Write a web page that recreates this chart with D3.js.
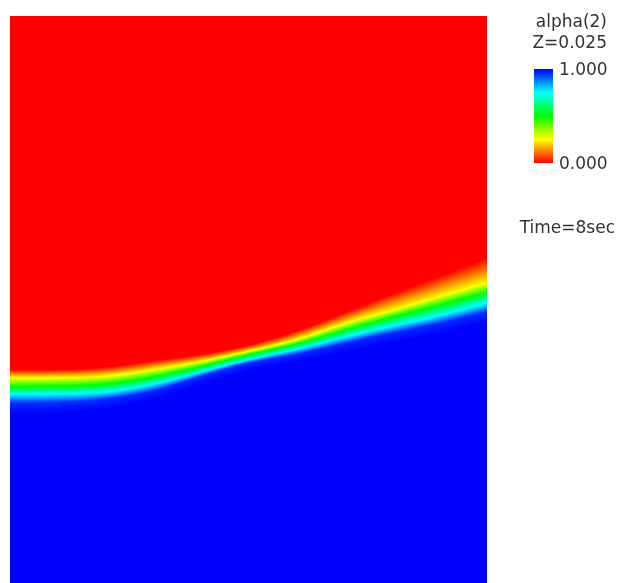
<!DOCTYPE html>
<html>
<head>
<meta charset="utf-8">
<script src="https://cdn.jsdelivr.net/npm/d3@7"></script>
<style>
  body { margin: 0; background: #fff; }
  #wrap { position: relative; width: 617px; height: 583px; overflow: hidden; }
  #wrap canvas, #wrap svg { position: absolute; left: 0; top: 0; }
  text { font-family: "DejaVu Sans", sans-serif; fill: #333; }
</style>
</head>
<body>
<div id="wrap"></div>
<script>
// sample positions across the domain (fraction of width)
const xs = [0, 0.1, 0.2, 0.3, 0.4, 0.5, 0.6, 0.7, 0.8, 0.9, 1.0];

// alpha(2) levels and the height (fraction of domain height) where each one sits
const levels = [0, 0.25, 0.5, 0.75, 0.96, 1];
const levelHeights = [
  [0.376, 0.376, 0.379, 0.393, 0.402, 0.418, 0.443, 0.476, 0.510, 0.541, 0.573], // 0.00 (edge of red)
  [0.362, 0.362, 0.363, 0.376, 0.390, 0.409, 0.427, 0.459, 0.480, 0.506, 0.529], // 0.25 yellow
  [0.346, 0.347, 0.349, 0.363, 0.381, 0.404, 0.420, 0.446, 0.469, 0.490, 0.513], // 0.50 green
  [0.333, 0.333, 0.335, 0.349, 0.372, 0.395, 0.411, 0.434, 0.453, 0.471, 0.494], // 0.75 cyan
  [0.317, 0.317, 0.323, 0.337, 0.365, 0.390, 0.402, 0.423, 0.441, 0.457, 0.478], // 0.96
  [0.298, 0.298, 0.305, 0.323, 0.349, 0.376, 0.390, 0.407, 0.425, 0.439, 0.460]  // 1.00
];

const fieldName = 'alpha(2)';
const sliceLabel = 'Z=0.025';
const timeLabel = 'Time=8sec';
const rangeTicks = [0, 1];

const W = 617, H = 583;
const plot = {x0: 10, x1: 487, y0: 16, y1: 583};

const x = d3.scaleLinear().domain([0, 1]).range([plot.x0, plot.x1]);
const y = d3.scaleLinear().domain([0, 1]).range([plot.y1, plot.y0]);

// blue-to-red rainbow (HSV hue 0..240)
const color = d3.scaleLinear()
  .domain([0, 1])
  .range(['hsl(0,100%,50%)', 'hsl(240,100%,50%)'])
  .interpolate(d3.interpolateHslLong);

const wrap = d3.select('#wrap');

// field
const canvas = wrap.append('canvas').attr('width', W).attr('height', H).node();
const ctx = canvas.getContext('2d');
const pw = plot.x1 - plot.x0, ph = plot.y1 - plot.y0;
const img = ctx.createImageData(pw, ph);

// smooth each level curve through its samples (xs are evenly spaced)
const curves = levelHeights.map(hs => d3.interpolateBasis(hs));
const lut = d3.range(256).map(i => d3.rgb(color(i / 255)));

for (let i = 0; i < pw; i++) {
  const xf = x.invert(plot.x0 + i + 0.5);
  const hs = curves.map(c => c(xf));
  const prof = d3.scaleLinear().domain(hs).range(levels).clamp(true);
  for (let j = 0; j < ph; j++) {
    const a = prof(y.invert(plot.y0 + j + 0.5));
    const c = lut[Math.round(a * 255)];
    const k = (j * pw + i) * 4;
    img.data[k] = c.r; img.data[k + 1] = c.g; img.data[k + 2] = c.b; img.data[k + 3] = 255;
  }
}
ctx.putImageData(img, plot.x0, plot.y0);

// legend
const svg = wrap.append('svg').attr('width', W).attr('height', H);

const grad = svg.append('defs').append('linearGradient')
  .attr('id', 'cbar').attr('x1', 0).attr('y1', 1).attr('x2', 0).attr('y2', 0);
grad.selectAll('stop')
  .data(d3.range(0, 1.0001, 0.05))
  .join('stop')
  .attr('offset', d => d)
  .attr('stop-color', d => color(d));

const cb = d3.scaleLinear().domain(rangeTicks).range([163, 69]);
svg.append('rect')
  .attr('x', 534).attr('y', cb(1))
  .attr('width', 19).attr('height', cb(0) - cb(1))
  .attr('fill', 'url(#cbar)');

svg.selectAll('.tick')
  .data(rangeTicks)
  .join('text')
  .attr('class', 'tick')
  .attr('x', 559)
  .attr('y', d => cb(d) + 6)
  .style('font-size', '17px')
  .text(d => d3.format('.3f')(d));

svg.append('text').attr('x', 607).attr('y', 27).attr('text-anchor', 'end')
  .style('font-size', '17px').text(fieldName);
svg.append('text').attr('x', 607).attr('y', 48).attr('text-anchor', 'end')
  .style('font-size', '17px').text(sliceLabel);
svg.append('text').attr('x', 615).attr('y', 233).attr('text-anchor', 'end')
  .style('font-size', '17px').text(timeLabel);
</script>
</body>
</html>
